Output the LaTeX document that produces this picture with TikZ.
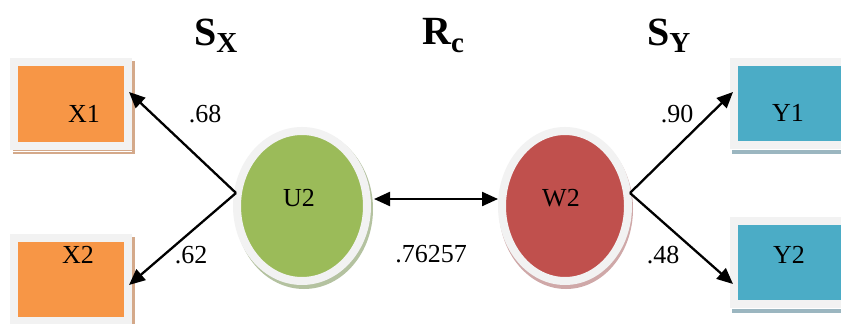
\documentclass[tikz,border=0pt]{standalone}
\usepackage{fontspec}
\setmainfont{Liberation Serif}
\usetikzlibrary{arrows.meta,shapes.geometric}
\definecolor{orangeF}{HTML}{F79646}
\definecolor{greenF}{HTML}{9BBB59}
\definecolor{redF}{HTML}{C0504D}
\definecolor{blueF}{HTML}{4BACC6}
\definecolor{frameC}{HTML}{F2F2F2}
\definecolor{shOr}{HTML}{D4A98A}
\definecolor{shBl}{HTML}{9BB6C0}
\definecolor{shGr}{HTML}{B4C2A0}
\definecolor{shRd}{HTML}{CFA8A8}
\tikzset{
  boxfill/.style={draw=frameC, line width=8pt, inner sep=0pt, outer sep=0pt},
  latent/.style={ellipse, draw=frameC, line width=8pt, inner sep=0pt, outer sep=0pt, minimum width=130pt, minimum height=150pt},
  txt/.style={font=\fontsize{26}{30}\selectfont, inner sep=0pt, anchor=base},
  ttl/.style={font=\fontsize{40}{44}\selectfont\bfseries, inner sep=0pt, anchor=base west},
  conn/.style={line width=2.3pt, -{Triangle[length=16pt,width=14pt]}},
  bconn/.style={line width=2.3pt, {Triangle[length=16pt,width=14pt]}-{Triangle[length=16pt,width=14pt]}}
}
\begin{document}
\begin{tikzpicture}[x=1pt,y=-1pt]
\useasboundingbox (0,0) rectangle (841,324);
\clip (0,0) rectangle (841,324);
\fill[white] (0,0) rectangle (841,324);
% shadows
\fill[shOr] (13,61) rectangle (135,154);
\fill[shOr] (13,237) rectangle (135,330);
\fill[shBl] (732,62) rectangle (850,154);
\fill[shBl] (732,222) rectangle (850,313);
\fill[shGr] (304,209) ellipse [x radius=69pt, y radius=80pt];
\fill[shRd] (566,209) ellipse [x radius=67pt, y radius=80pt];
% white gaps
\draw[white, line width=1pt] (13,151) -- (132,151);
\draw[white, line width=1pt] (732,149) -- (850,149);
\draw[white, line width=1pt] (732,308) -- (850,308);
% boxes
\node[boxfill, fill=orangeF, minimum width=114pt, minimum height=84pt, anchor=north west] (X1box) at (14,62) {};
\node[boxfill, fill=orangeF, minimum width=114pt, minimum height=83pt, anchor=north west] (X2box) at (14,238) {};
\node[boxfill, fill=blueF, minimum width=125pt, minimum height=83pt, anchor=north west] (Y1box) at (733.5,61.5) {};
\node[boxfill, fill=blueF, minimum width=125pt, minimum height=83pt, anchor=north west] (Y2box) at (733.5,221) {};
% ellipses
\node[latent, fill=greenF] (U2) at (302,206) {};
\node[latent, fill=redF, minimum width=126pt] (W2) at (565,206) {};
% texts
\node[txt] (tX1) at (84,122) {X1};
\node[txt] (tX2) at (78,263) {X2};
\node[txt] (tY1) at (788,121) {Y1};
\node[txt] (tY2) at (789,263) {Y2};
\node[txt] (tU2) at (299,206) {U2};
\node[txt] (tW2) at (561,206) {W2};
\node[txt] (l68) at (205,122) {.68};
\node[txt] (l62) at (191,263) {.62};
\node[txt] (l76) at (431,262) {.76257};
\node[txt] (l90) at (677,122) {.90};
\node[txt] (l48) at (663,263) {.48};
% titles
\node[ttl] (Sx) at (194,45) {S\raisebox{-8pt}{\fontsize{29}{29}\selectfont X}};
\node[ttl] (Rc) at (422,44) {R\raisebox{-9pt}{\fontsize{29}{29}\selectfont c}};
\node[ttl] (Sy) at (647,45) {S\raisebox{-8pt}{\fontsize{29}{29}\selectfont Y}};
% connector coordinates
\coordinate (vL) at (236,193);
\coordinate (vR) at (630,193);
\coordinate (tipX1) at (129,92);
\coordinate (tipX2) at (129,285);
\coordinate (tipY1) at (733,92);
\coordinate (tipY2) at (733,284);
\coordinate (cU) at (374,199);
\coordinate (cW) at (498,199);
\draw[conn] (vL) -- (tipX1);
\draw[conn] (vL) -- (tipX2);
\draw[conn] (vR) -- (tipY1);
\draw[conn] (vR) -- (tipY2);
\draw[bconn] (cU) -- (cW);
\end{tikzpicture}
\end{document}
